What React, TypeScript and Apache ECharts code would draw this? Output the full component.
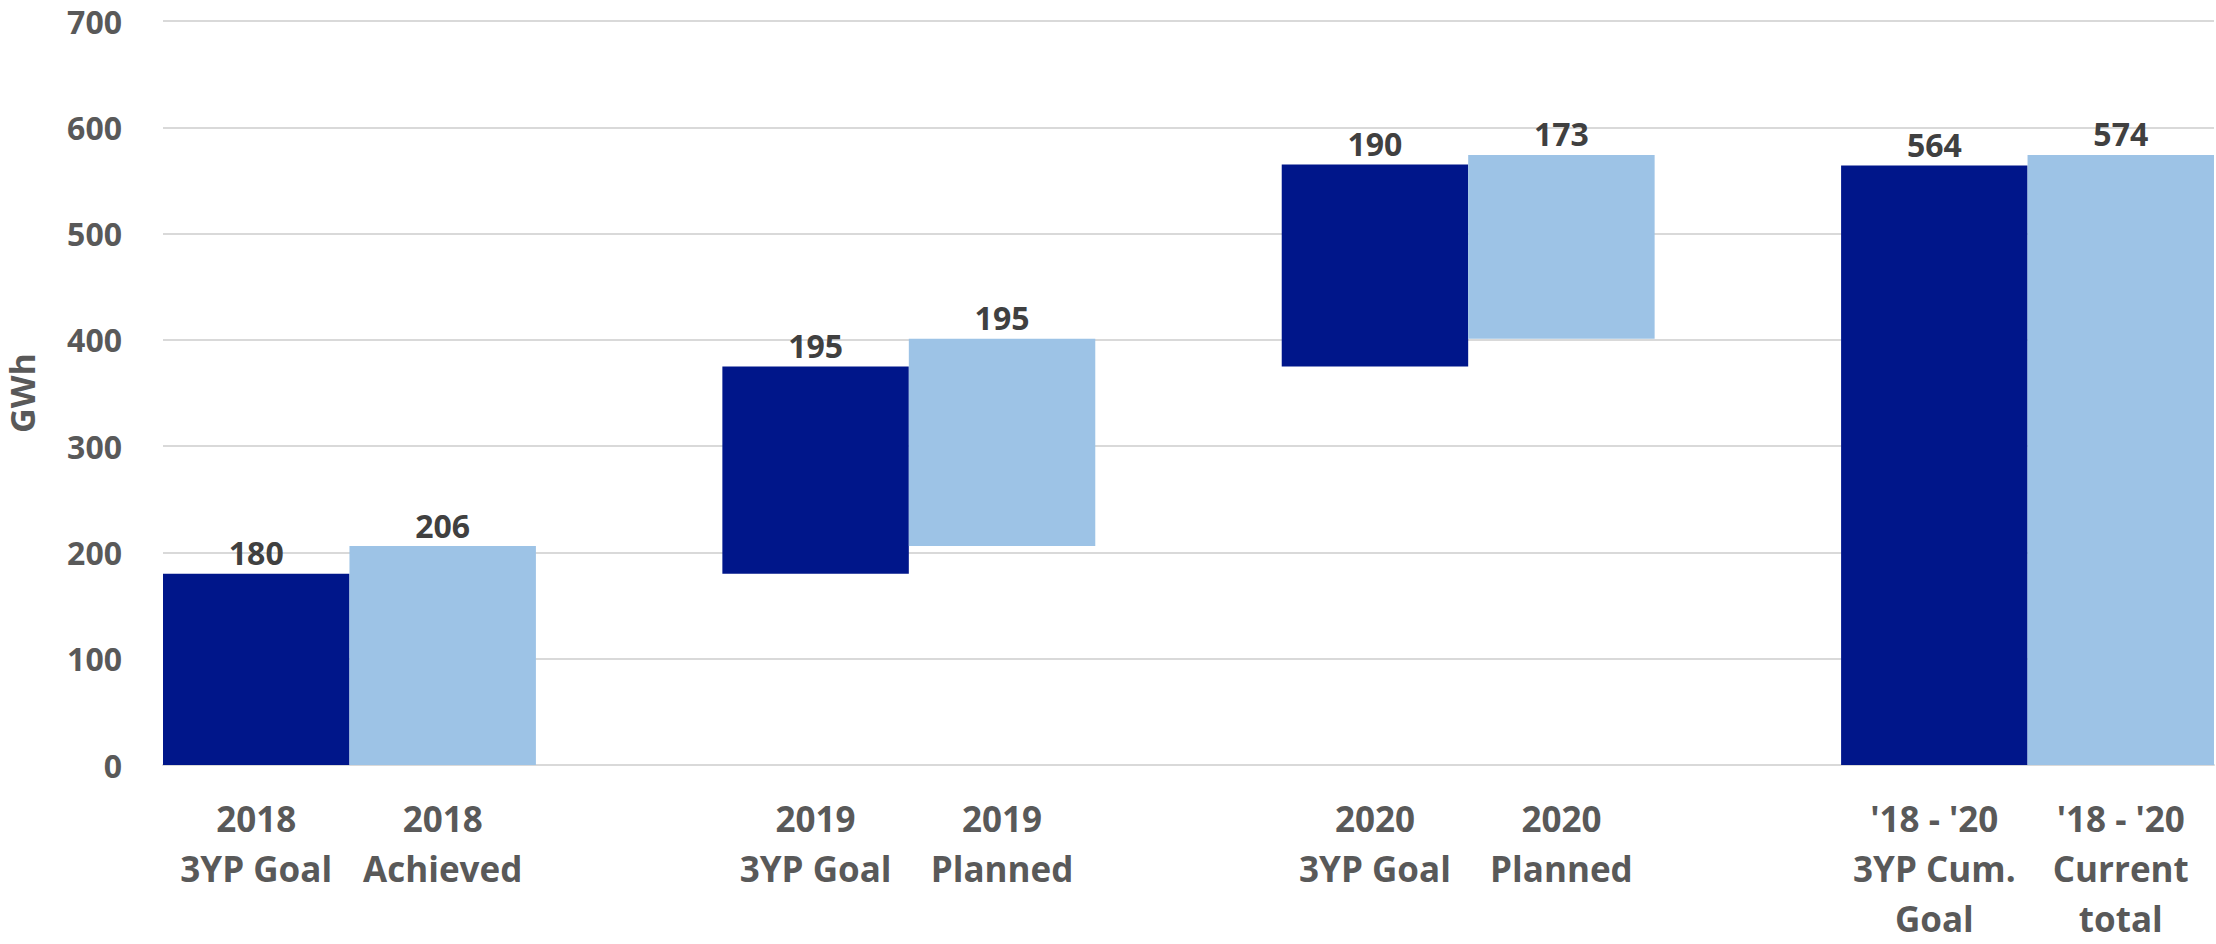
import React, { useEffect, useRef } from "react";
import * as echarts from "echarts";

const categories: string[] = [
  "2018\n3YP Goal",
  "2018\nAchieved",
  "",
  "2019\n3YP Goal",
  "2019\nPlanned",
  "",
  "2020\n3YP Goal",
  "2020\nPlanned",
  "",
  "'18 - '20\n3YP Cum.\nGoal",
  "'18 - '20\nCurrent\ntotal",
];
const bases: (number | string)[] = [0, 0, "-", 180, 206, "-", 375, 401, "-", 0, 0];
const values: (number | string)[] = [180, 206, "-", 195, 195, "-", 190, 173, "-", 564, 574];
const kinds: string[] = ["goal", "actual", "", "goal", "actual", "", "goal", "actual", "", "goal", "actual"];
const yTicks = { min: 0, max: 700, interval: 100 };

const COLORS: Record<string, string> = { goal: "#00168A", actual: "#9DC3E6" };
const FONT = "'Open Sans', sans-serif";

export default function App() {
  const ref = useRef<HTMLDivElement>(null);
  useEffect(() => {
    if (!ref.current) return;
    const chart = echarts.init(ref.current, null, { renderer: "svg" });
    chart.setOption({
      animation: false,
      backgroundColor: "#ffffff",
      grid: { left: 163, right: 2, top: 21, bottom: 179, containLabel: false, outerBoundsMode: "none" },
      xAxis: {
        type: "category",
        data: categories,
        axisTick: { show: false },
        axisLine: { lineStyle: { color: "#D9D9D9", width: 2 } },
        axisLabel: {
          interval: 0,
          color: "#595959",
          fontSize: 35,
          fontWeight: "bold",
          fontFamily: FONT,
          lineHeight: 50,
          margin: 28,
        },
      },
      yAxis: {
        type: "value",
        min: yTicks.min,
        max: yTicks.max,
        interval: yTicks.interval,
        name: "GWh",
        nameLocation: "middle",
        nameRotate: 90,
        nameGap: 124,
        nameTextStyle: { color: "#595959", fontSize: 34, fontWeight: "bold", fontFamily: FONT },
        axisLine: { show: false },
        axisTick: { show: false },
        splitLine: { lineStyle: { color: "#D9D9D9", width: 2 } },
        axisLabel: {
          color: "#595959",
          fontSize: 32,
          lineHeight: 32,
          fontWeight: "bold",
          fontFamily: FONT,
          margin: 41,
        },
      },
      series: [
        {
          name: "base",
          type: "bar",
          stack: "w",
          data: bases,
          itemStyle: { color: "transparent" },
          barCategoryGap: "0%",
          silent: true,
        },
        {
          name: "value",
          type: "bar",
          stack: "w",
          barCategoryGap: "0%",
          data: values.map((v, i) => ({ value: v, itemStyle: { color: COLORS[kinds[i]] || "transparent" } })),
          label: {
            show: true,
            position: "top",
            distance: 5,
            color: "#404040",
            fontSize: 32,
            fontWeight: "bold",
            fontFamily: FONT,
          },
        },
      ],
    });
    return () => chart.dispose();
  }, []);
  return <div ref={ref} style={{ position: "fixed", left: 0, top: 0, width: 2216, height: 944 }} />;
}
